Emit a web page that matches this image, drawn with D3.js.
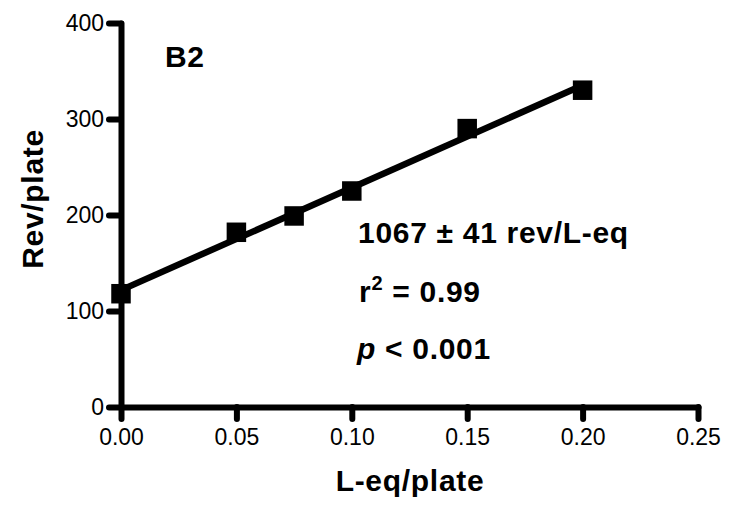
<!DOCTYPE html>
<html>
<head>
<meta charset="utf-8">
<script src="https://cdn.jsdelivr.net/npm/d3@7/dist/d3.min.js"></script>
<style>
  html, body { margin: 0; padding: 0; background: #fff; }
  svg { display: block; font-family: "Liberation Sans", Arial, Helvetica, sans-serif; }
  .bold { font-weight: bold; font-size: 30px; letter-spacing: 0.7px; fill: #000; }
</style>
</head>
<body>
<div id="chart"></div>
<script>
// data
var doses = [0, 0.05, 0.075, 0.1, 0.15, 0.2];      // L-eq/plate
var revertants = [118, 182, 199, 225, 290, 330];    // Rev/plate
var xTicks = [0, 0.05, 0.1, 0.15, 0.2, 0.25];
var yTicks = [0, 100, 200, 300, 400];

var width = 740,
  height = 506,
  margin = { top: 23, right: 42, bottom: 99, left: 121 };

var svg = d3.select("#chart").append("svg")
  .attr("width", width)
  .attr("height", height);

var x = d3.scaleLinear().domain([0, 0.25]).range([margin.left, width - margin.right]);
var y = d3.scaleLinear().domain([0, 400]).range([height - margin.bottom, margin.top]);

var points = doses.map(function (d, i) {
  return { x: d, y: revertants[i] };
});

// least squares fit through the points
var mx = d3.mean(doses), my = d3.mean(revertants);
var sxy = d3.sum(points, function (p) { return (p.x - mx) * (p.y - my); });
var sxx = d3.sum(points, function (p) { return (p.x - mx) * (p.x - mx); });
var slope = sxy / sxx, intercept = my - slope * mx;
var xExtent = d3.extent(doses);

// axes
var gx = svg.append("g")
  .attr("transform", "translate(0," + y(0) + ")")
  .call(d3.axisBottom(x).tickValues(xTicks).tickFormat(d3.format(".2f"))
    .tickSizeInner(12).tickSizeOuter(0).tickPadding(10));

var gy = svg.append("g")
  .attr("transform", "translate(" + x(0) + ",0)")
  .call(d3.axisLeft(y).tickValues(yTicks).tickFormat(d3.format("d"))
    .tickSizeInner(12).tickSizeOuter(0).tickPadding(5));

[gx, gy].forEach(function (g) {
  g.attr("font-family", null).attr("font-size", null);
  g.selectAll("path, line")
    .attr("stroke", "#000")
    .attr("stroke-width", 6)
    .attr("stroke-linecap", "round")
    .attr("fill", "none");
  g.selectAll("text")
    .style("font-family", "'Liberation Sans', Arial, sans-serif")
    .style("font-size", "23px")
    .attr("fill", "#000");
});

// fit line
var line = d3.line()
  .x(function (d) { return x(d); })
  .y(function (d) { return y(intercept + slope * d); });

svg.append("path")
  .datum(xExtent)
  .attr("d", line)
  .attr("fill", "none")
  .attr("stroke", "#000")
  .attr("stroke-width", 6.5);

// markers
var s = 19.5;
svg.selectAll("rect.pt")
  .data(points)
  .enter()
  .append("rect")
  .attr("class", "pt")
  .attr("x", function (d) { return x(d.x) - s / 2; })
  .attr("y", function (d) { return y(d.y) - s / 2; })
  .attr("width", s)
  .attr("height", s)
  .attr("fill", "#000");

// axis titles
svg.append("text")
  .attr("class", "bold")
  .attr("x", 410)
  .attr("y", 491)
  .attr("text-anchor", "middle")
  .text("L-eq/plate");

svg.append("text")
  .attr("class", "bold")
  .attr("transform", "translate(43,199) rotate(-90)")
  .attr("text-anchor", "middle")
  .text("Rev/plate");

// annotations
svg.append("text")
  .attr("class", "bold")
  .attr("x", 165)
  .attr("y", 67)
  .text("B2");

svg.append("text")
  .attr("class", "bold")
  .attr("x", 358)
  .attr("y", 243)
  .text("1067 \u00b1 41 rev/L-eq");

var r2 = svg.append("text")
  .attr("class", "bold")
  .attr("x", 359)
  .attr("y", 302);
r2.append("tspan").text("r");
r2.append("tspan").attr("dy", -12).style("font-size", "20px").text("2");
r2.append("tspan").attr("dy", 12).text(" = 0.99");

var pv = svg.append("text")
  .attr("class", "bold")
  .attr("x", 357)
  .attr("y", 359);
pv.append("tspan").style("font-style", "italic").text("p");
pv.append("tspan").text(" < 0.001");
</script>
</body>
</html>
